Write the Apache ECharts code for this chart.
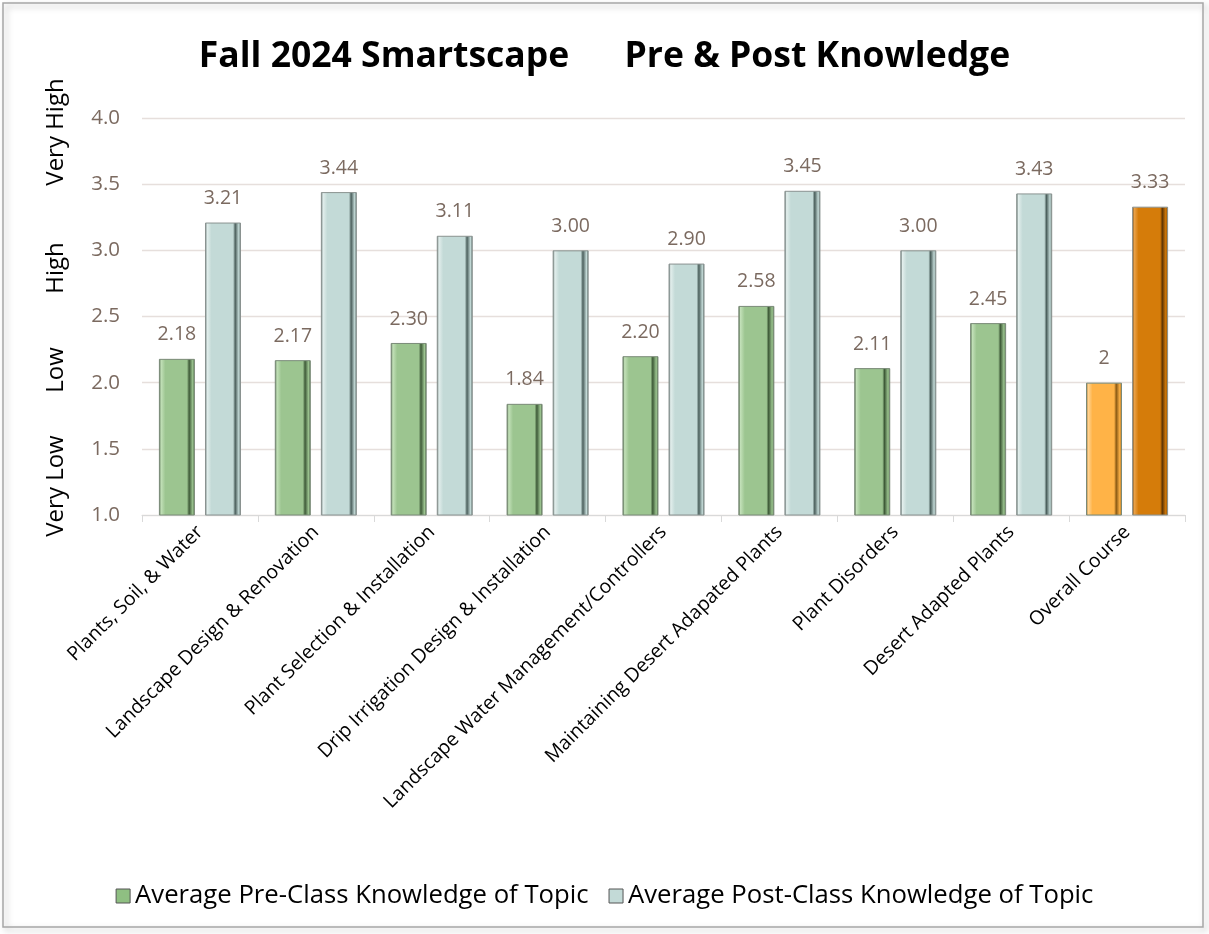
<!DOCTYPE html>
<html><head><meta charset="utf-8">
<script src="https://cdn.jsdelivr.net/npm/echarts@6/dist/echarts.min.js"></script>
<style>html,body{margin:0;padding:0;background:#fff}#c{width:1209px;height:934px}</style>
</head><body><div id="c"></div>
<script>
const categories = ["Plants, Soil, & Water","Landscape Design & Renovation","Plant Selection & Installation","Drip Irrigation Design & Installation","Landscape Water Management/Controllers","Maintaining Desert Adapated Plants","Plant Disorders","Desert Adapted Plants","Overall Course"];
const preValues = [2.18,2.17,2.30,1.84,2.20,2.58,2.11,2.45,2];
const postValues = [3.21,3.44,3.11,3.00,2.90,3.45,3.00,3.43,3.33];
const preLabels = ["2.18","2.17","2.30","1.84","2.20","2.58","2.11","2.45","2"];
const postLabels = ["3.21","3.44","3.11","3.00","2.90","3.45","3.00","3.43","3.33"];
const yTicks = [1.0,1.5,2.0,2.5,3.0,3.5,4.0];
const levelNames = ["Very Low","Low","High","Very High"];

function bevel(base, light, dark){
  return {type:'linear',x:0,y:0,x2:1,y2:0,colorStops:[
    {offset:0,color:dark},{offset:0.06,color:light},{offset:0.18,color:base},{offset:0.78,color:base},{offset:0.84,color:dark},{offset:0.94,color:base},{offset:1,color:dark}]};
}
const greenC = bevel('#9cc590','#c2e0b8','#3e5a38');
const blueC = bevel('#c3dad7','#e2eeec','#4b5f5c');
const orangeL = bevel('#ffb347','#ffd595','#8a5a14');
const orangeD = bevel('#d57c0a','#eaa24a','#5e3505');

const chart = echarts.init(document.getElementById('c'));
const last = categories.length-1;
chart.setOption({
  animation:false,
  backgroundColor:'#fff',
  title:{text:'Fall 2024 Smartscape      Pre & Post Knowledge',left:'center',top:34,
    textStyle:{fontFamily:'Open Sans',fontWeight:'bold',fontSize:35.5,color:'#000'}},
  grid:{left:142,right:24,top:118,bottom:419},
  legend:{bottom:20,left:'center',itemGap:20,itemWidth:14,itemHeight:14,icon:'rect',
    textStyle:{fontFamily:'Open Sans',fontSize:25.7,color:'#000'},
    data:[{name:'Average Pre-Class Knowledge of Topic',itemStyle:{color:'#8fbf82',borderColor:'#555',borderWidth:1}},
          {name:'Average Post-Class Knowledge of Topic',itemStyle:{color:'#c3dad7',borderColor:'#555',borderWidth:1}}]},
  xAxis:{type:'category',data:categories,
    axisLine:{lineStyle:{color:'#d9d9d9'}},axisTick:{show:true,length:7,lineStyle:{color:'#d9d9d9'}},
    axisLabel:{rotate:45,interval:0,fontFamily:'Open Sans',fontSize:19.5,color:'#000',margin:14}},
  yAxis:{type:'value',min:1,max:4,interval:0.5,
    axisLine:{show:false},axisTick:{show:false},
    splitLine:{lineStyle:{color:'#e6dfdc',width:1.3}},
    axisLabel:{fontFamily:'Open Sans',fontSize:20.5,color:'#7b6a60',margin:22,formatter:v=>v.toFixed(1)}},
  series:[
    {name:'Average Pre-Class Knowledge of Topic',type:'bar',barWidth:36,barGap:'28%',
     data:preValues.map((v,i)=>({value:v,itemStyle:{color:i===last?orangeL:greenC}})),
     itemStyle:{borderColor:'#7a8a78',borderWidth:1},
     label:{show:true,position:'top',distance:14,fontFamily:'Open Sans',fontSize:19.5,color:'#7b6a60',
       formatter:p=>preLabels[p.dataIndex]}},
    {name:'Average Post-Class Knowledge of Topic',type:'bar',barWidth:36,
     data:postValues.map((v,i)=>({value:v,itemStyle:{color:i===last?orangeD:blueC}})),
     itemStyle:{borderColor:'#8a9290',borderWidth:1},
     label:{show:true,position:'top',distance:14,fontFamily:'Open Sans',fontSize:19.5,color:'#7b6a60',
       formatter:p=>postLabels[p.dataIndex]}}
  ],
  graphic:[
    {type:'rect',shape:{x:3,y:3,width:1200,height:924},style:{fill:'none',stroke:'#a6a6a6',lineWidth:1.5,shadowBlur:6,shadowOffsetX:3,shadowOffsetY:3,shadowColor:'rgba(0,0,0,0.3)'},silent:true,z:-1},
    {type:'text',x:56,y:486,rotation:Math.PI/2,style:{text:levelNames[0],fontFamily:'Open Sans',fontSize:24,fill:'#000',align:'center',verticalAlign:'middle'}},
    {type:'text',x:56,y:370,rotation:Math.PI/2,style:{text:levelNames[1],fontFamily:'Open Sans',fontSize:24,fill:'#000',align:'center',verticalAlign:'middle'}},
    {type:'text',x:56,y:268,rotation:Math.PI/2,style:{text:levelNames[2],fontFamily:'Open Sans',fontSize:24,fill:'#000',align:'center',verticalAlign:'middle'}},
    {type:'text',x:56,y:132,rotation:Math.PI/2,style:{text:levelNames[3],fontFamily:'Open Sans',fontSize:24,fill:'#000',align:'center',verticalAlign:'middle'}}
  ]
});
</script></body></html>
